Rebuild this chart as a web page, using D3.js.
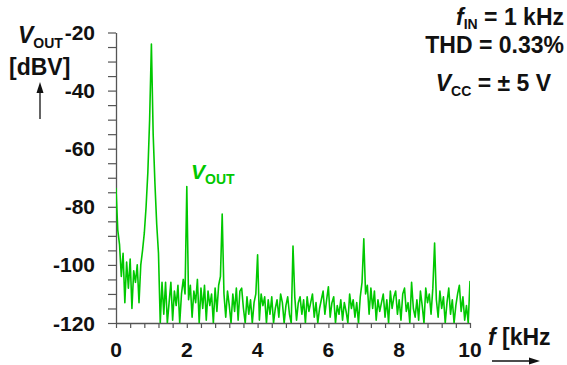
<!DOCTYPE html>
<html>
<head>
<meta charset="utf-8">
<script src="https://cdn.jsdelivr.net/npm/d3@7"></script>
<style>
  html, body { margin: 0; padding: 0; background: #fff; }
  svg { display: block; font-family: "Liberation Sans", Arial, sans-serif; }
</style>
</head>
<body>
<div id="chart"></div>
<script>
// spectrum of V_OUT, one value every 50 Hz from 0 to 10 kHz (dBV)
const FREQ_STEP = 0.05;
const vout = [
  -73.5, -88, -93, -104, -96, -113, -99, -108, -98, -115, -102, -106, -100, -113, -100, -95, -89, -80, -68, -50,
  -24, -55, -72, -86, -96, -120, -106, -117, -106, -120, -113, -106, -119, -109, -114, -107, -120, -110, -105, -110,
  -73, -112, -107, -118, -109, -113, -105, -120, -108, -115, -107, -119, -109, -114, -110, -120, -108, -116, -107, -104,
  -82.5, -110, -118, -109, -114, -120, -110, -116, -108, -119, -109, -108, -115, -120, -111, -117, -112, -120, -113, -110,
  -96.5, -119, -110, -114, -111, -120, -112, -117, -111, -120, -115, -112, -118, -110, -113, -120, -114, -111, -117, -120,
  -93.5, -111, -119, -113, -111, -117, -112, -120, -111, -116, -113, -110, -118, -113, -120, -115, -112, -109, -117, -112,
  -107.5, -118, -113, -111, -120, -114, -117, -112, -119, -113, -116, -120, -110, -115, -112, -118, -113, -120, -111, -106,
  -91, -110, -107, -117, -108, -115, -109, -119, -112, -116, -113, -110, -118, -112, -120, -109, -115, -111, -109, -117,
  -112, -119, -110, -108, -116, -113, -120, -106, -115, -118, -112, -119, -109, -114, -120, -108, -113, -110, -117, -108,
  -92.5, -112, -118, -109, -115, -111, -120, -113, -108, -117, -112, -120, -114, -110, -107, -116, -111, -119, -114, -120,
  -105.5
];

// axes
const xDomain = [0, 10];
const yDomain = [-120, -20];
const xMinorTicks = d3.range(0, 26).map(i => +(i * 0.4).toFixed(1));   // every 0.4 kHz
const xLabels = [0, 2, 4, 6, 8, 10];
const yMinorTicks = d3.range(-120, -15, 5);                            // every 5 dB
const yLabels = [-20, -40, -60, -80, -100, -120];

const W = 567, H = 365;
const plot = { left: 116, right: 470, top: 32.5, bottom: 323 };
const GREEN = '#00c800';
const AXIS = '#555';
const TICK_FONT = 21;
const TITLE_FONT = 23;

const svg = d3.select('#chart').append('svg')
  .attr('width', W).attr('height', H)
  .attr('viewBox', `0 0 ${W} ${H}`);

const x = d3.scaleLinear().domain(xDomain).range([plot.left, plot.right]);
const y = d3.scaleLinear().domain(yDomain).range([plot.bottom, plot.top]);

// clip so the trace never goes under the x axis
svg.append('clipPath').attr('id', 'plot-clip')
  .append('rect')
  .attr('x', plot.left).attr('y', plot.top - 5)
  .attr('width', plot.right - plot.left)
  .attr('height', plot.bottom - plot.top + 5);

// y axis, ticks to the outside
const yAxis = svg.append('g')
  .attr('transform', `translate(${plot.left},0)`)
  .call(d3.axisLeft(y).tickValues(yMinorTicks.filter(v => v <= -20)).tickSize(8).tickSizeOuter(0).tickFormat(''));

// x axis, ticks downward
const xAxis = svg.append('g')
  .attr('transform', `translate(0,${plot.bottom})`)
  .call(d3.axisBottom(x).tickValues(xMinorTicks).tickSize(5).tickSizeOuter(0).tickFormat(''));

[yAxis, xAxis].forEach(g => {
  g.select('.domain').attr('stroke', AXIS).attr('stroke-width', 1.3);
  g.selectAll('.tick line').attr('stroke', AXIS).attr('stroke-width', 1.2);
});

// tick labels
svg.append('g').selectAll('text')
  .data(yLabels)
  .join('text')
  .attr('x', 95)
  .attr('y', d => y(d))
  .attr('dy', '0.36em')
  .attr('text-anchor', 'end')
  .style('font-size', TICK_FONT + 'px')
  .style('font-weight', '700')
  .attr('fill', '#111')
  .text(d => d);

svg.append('g').selectAll('text')
  .data(xLabels)
  .join('text')
  .attr('x', d => x(d))
  .attr('y', 357)
  .attr('text-anchor', 'middle')
  .style('font-size', TICK_FONT + 'px')
  .style('font-weight', '700')
  .attr('fill', '#111')
  .text(d => d);

// the spectrum
const line = d3.line()
  .x((d, i) => x(i * FREQ_STEP))
  .y(d => y(d));

svg.append('path')
  .datum(vout)
  .attr('clip-path', 'url(#plot-clip)')
  .attr('fill', 'none')
  .attr('stroke', GREEN)
  .attr('stroke-width', 1.6)
  .attr('stroke-linejoin', 'round')
  .attr('d', line);

// helper for "italic letter + subscript + rest" labels
function label(xPos, yPos, main, sub, rest, opts = {}) {
  const shift = opts.subShift || 5;
  const t = svg.append('text')
    .attr('x', xPos).attr('y', yPos)
    .attr('text-anchor', opts.anchor || 'start')
    .attr('fill', opts.color || '#111')
    .style('font-size', (opts.size || TITLE_FONT) + 'px')
    .style('font-weight', '700');
  t.append('tspan').style('font-style', 'italic').text(main);
  if (sub) t.append('tspan').attr('dy', shift).style('font-size', (opts.subSize || 14) + 'px').text(sub);
  if (rest) t.append('tspan').attr('dy', sub ? -shift : 0).text(rest);
  return t;
}

// y axis title + arrow
label(18, 43, 'V', 'OUT', null);
svg.append('text').attr('x', 9).attr('y', 75)
  .attr('fill', '#111')
  .style('font-size', TITLE_FONT + 'px').style('font-weight', '700')
  .text('[dBV]');

const arrowHead = (x0, y0, dir) => {
  // small filled head, dir: 'up' or 'right'
  const p = dir === 'up'
    ? [[x0, y0], [x0 - 3.5, y0 + 11], [x0 + 3.5, y0 + 11]]
    : [[x0, y0], [x0 - 11, y0 - 3.5], [x0 - 11, y0 + 3.5]];
  svg.append('polygon').attr('points', p.map(q => q.join(',')).join(' ')).attr('fill', '#111');
};
svg.append('line').attr('x1', 40).attr('x2', 40).attr('y1', 119).attr('y2', 90)
  .attr('stroke', '#111').attr('stroke-width', 1.3);
arrowHead(40, 82, 'up');

// x axis title + arrow
label(488, 345, 'f', null, ' [kHz');
svg.append('line').attr('x1', 492).attr('x2', 532).attr('y1', 361).attr('y2', 361)
  .attr('stroke', '#111').attr('stroke-width', 1.3);
arrowHead(540, 361, 'right');

// annotations top right
label(564, 25, 'f', 'IN', ' = 1 kHz', { anchor: 'end', subShift: 4 });
svg.append('text').attr('x', 564).attr('y', 53)
  .attr('text-anchor', 'end').attr('fill', '#111')
  .style('font-size', TITLE_FONT + 'px').style('font-weight', '700')
  .text('THD = 0.33%');
label(551, 91, 'V', 'CC', ' = ± 5 V', { anchor: 'end' });

// trace name
label(191, 179, 'V', 'OUT', null, { color: GREEN, size: 21 });
</script>
</body>
</html>
